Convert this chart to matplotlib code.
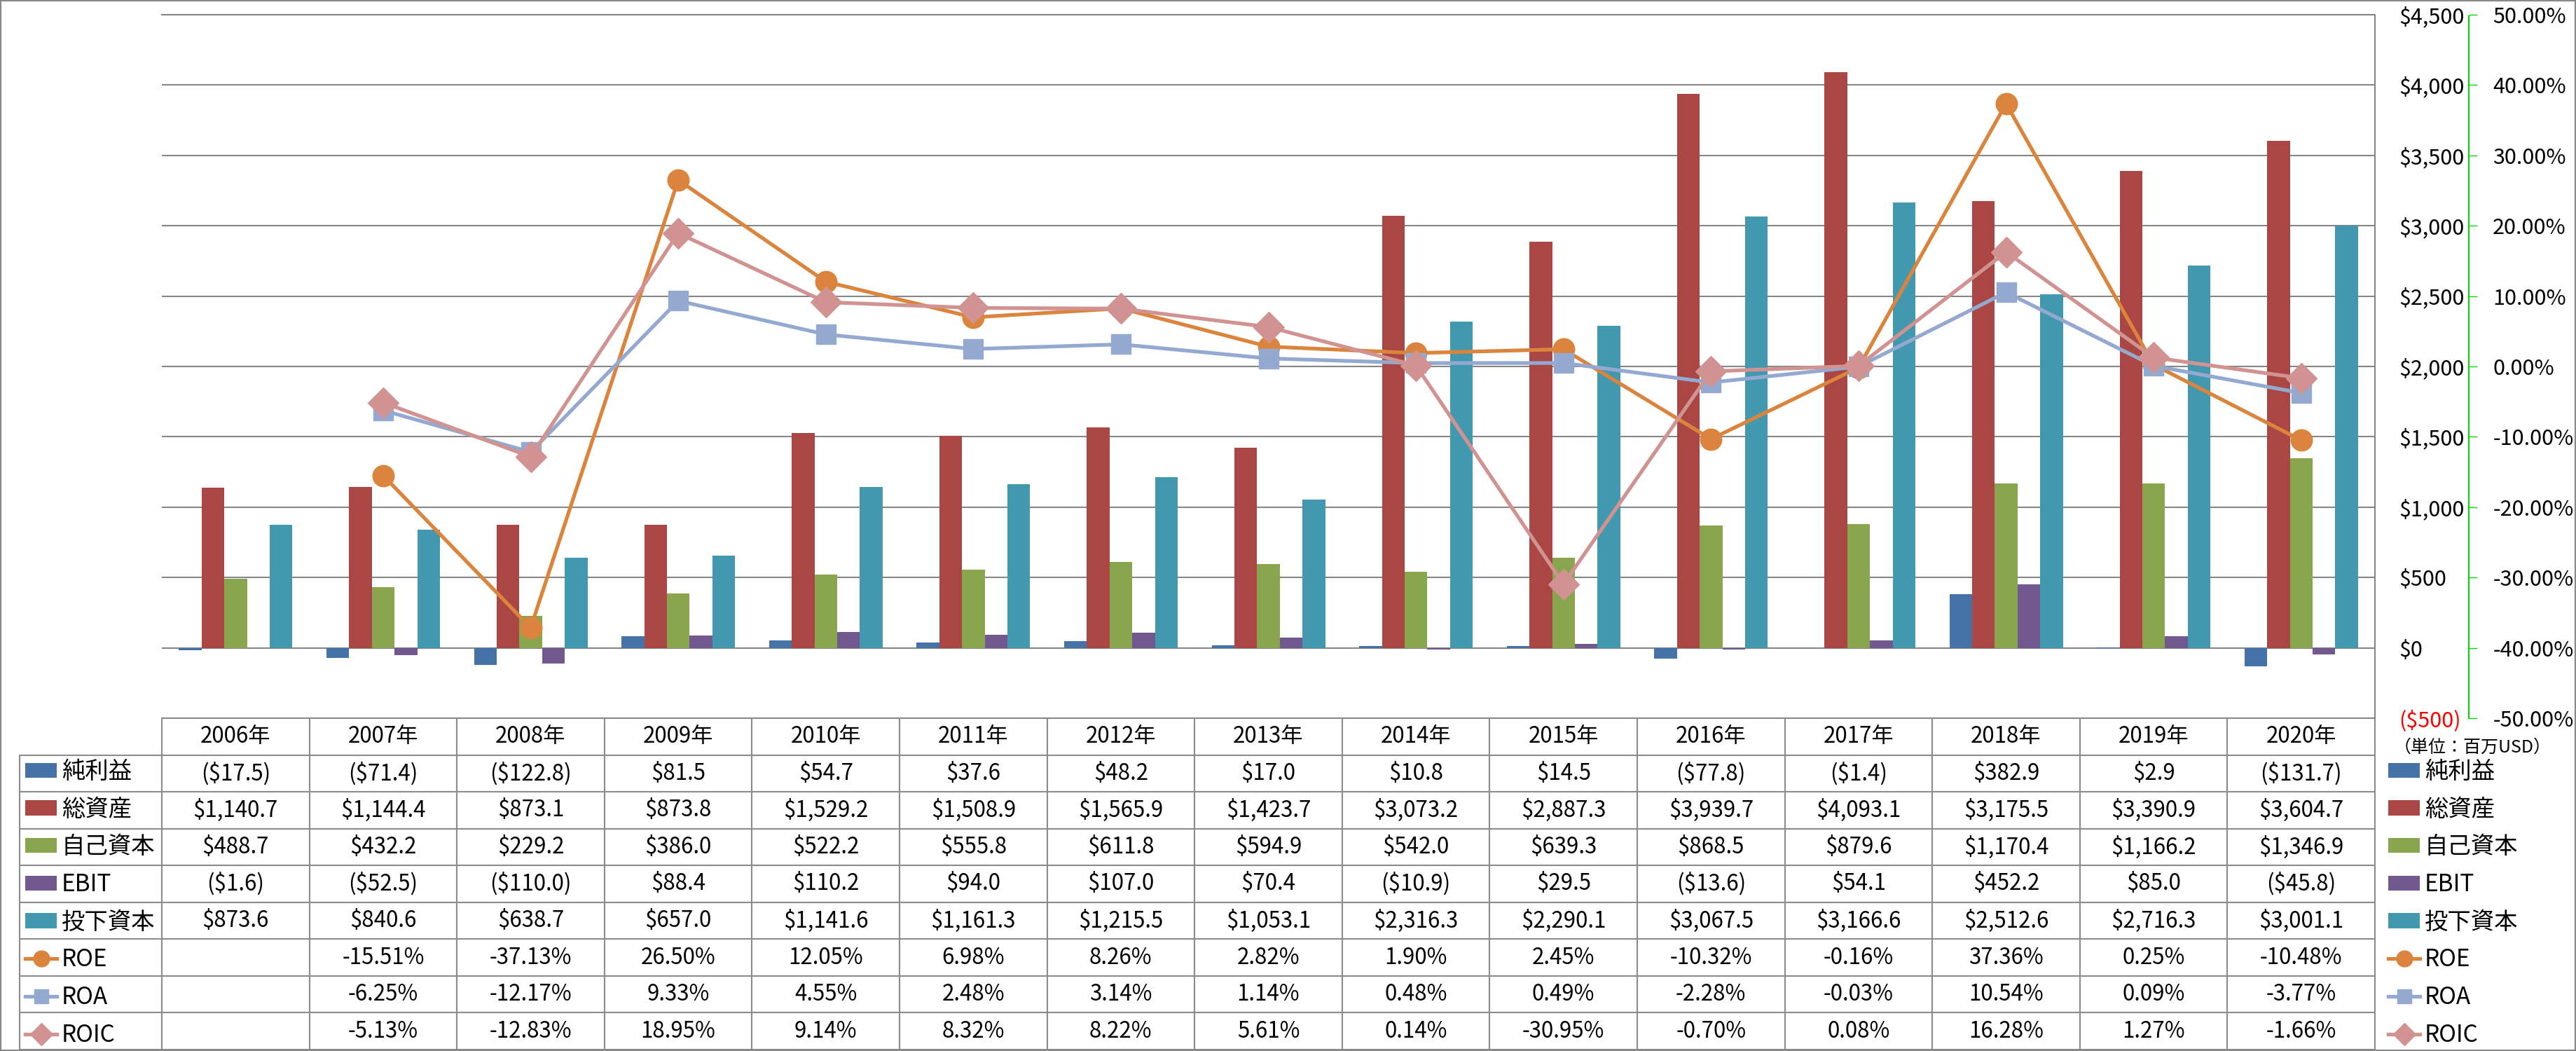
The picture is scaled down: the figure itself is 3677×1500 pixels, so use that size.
import numpy as np
import matplotlib
matplotlib.use("Agg")
from matplotlib import pyplot as plt
from matplotlib.patches import Rectangle

plt.rcParams['font.family'] = ['Noto Sans CJK JP', 'DejaVu Sans']

# Data (百万USD / %)
years = [2006, 2007, 2008, 2009, 2010, 2011, 2012, 2013, 2014, 2015, 2016, 2017, 2018, 2019, 2020]
net_income = [-17.5, -71.4, -122.8, 81.5, 54.7, 37.6, 48.2, 17.0, 10.8, 14.5, -77.8, -1.4, 382.9, 2.9, -131.7]
total_assets = [1140.7, 1144.4, 873.1, 873.8, 1529.2, 1508.9, 1565.9, 1423.7, 3073.2, 2887.3, 3939.7, 4093.1, 3175.5, 3390.9, 3604.7]
equity = [488.7, 432.2, 229.2, 386.0, 522.2, 555.8, 611.8, 594.9, 542.0, 639.3, 868.5, 879.6, 1170.4, 1166.2, 1346.9]
ebit = [-1.6, -52.5, -110.0, 88.4, 110.2, 94.0, 107.0, 70.4, -10.9, 29.5, -13.6, 54.1, 452.2, 85.0, -45.8]
invested = [873.6, 840.6, 638.7, 657.0, 1141.6, 1161.3, 1215.5, 1053.1, 2316.3, 2290.1, 3067.5, 3166.6, 2512.6, 2716.3, 3001.1]
roe = [np.nan, -15.51, -37.13, 26.50, 12.05, 6.98, 8.26, 2.82, 1.90, 2.45, -10.32, -0.16, 37.36, 0.25, -10.48]
roa = [np.nan, -6.25, -12.17, 9.33, 4.55, 2.48, 3.14, 1.14, 0.48, 0.49, -2.28, -0.03, 10.54, 0.09, -3.77]
roic = [np.nan, -5.13, -12.83, 18.95, 9.14, 8.32, 8.22, 5.61, 0.14, -30.95, -0.70, 0.08, 16.28, 1.27, -1.66]

bar_names = ['純利益', '総資産', '自己資本', 'EBIT', '投下資本']
bar_colors = ['#4572A7', '#AA4643', '#89A54E', '#71588F', '#4198AF']
line_names = ['ROE', 'ROA', 'ROIC']
line_colors = ['#DB843D', '#93A9CF', '#D19392']
line_markers = ['o', 's', 'D']
usd_ticks = list(range(-500, 5000, 500))
pct_ticks = list(range(-50, 60, 10))

W, H = 3677, 1500
fig = plt.figure(figsize=(W / 100, H / 100), dpi=100)
ax = fig.add_axes([231 / W, 1 - 1025 / H, (3390 - 231) / W, (1025 - 21) / H])

x = np.arange(len(years))
bw = 1 / 6.5
bars = []
for i, (vals, c) in enumerate(zip([net_income, total_assets, equity, ebit, invested], bar_colors)):
    bars.append(ax.bar(x + (i - 2) * bw, vals, bw, color=c, zorder=2))

ax.set_xlim(-0.5, len(years) - 0.5)
ax.set_ylim(-500, 4500)
ax.set_xticks([])
ax.grid(axis='y', color='#868686', lw=1.5)
ax.set_axisbelow(True)

# secondary axis for ratios
ax2 = ax.twinx()
lines = []
for vals, c, m in zip([roe, roa, roic], line_colors, line_markers):
    ms = 20 if m == 's' else 22
    ln, = ax2.plot(x, np.array(vals) / 100, color=c, lw=3.8, marker=m, ms=ms, mec=c, mfc=c, zorder=3)
    lines.append(ln)
ax2.set_ylim(-0.5, 0.5)
ax2.set_yticks([t / 100 for t in pct_ticks], [f'{t:.2f}%' for t in pct_ticks])
for t, v in zip(ax2.get_yticklabels(), pct_ticks):
    t.set_color('red' if v < 0 else 'black')
ax2.tick_params(axis='y', length=8.6, width=1, color='#00dd00', pad=16, labelsize=22)
for s in ['left', 'top', 'bottom']:
    ax2.spines[s].set_visible(False)
ax2.spines['right'].set_position(('axes', (3524 - 231) / (3390 - 231)))
ax2.spines['right'].set_color('#00dd00')
ax2.spines['right'].set_linestyle((0, (1, 1)))
ax2.spines['right'].set_linewidth(1.5)

# USD labels sit on the right, between plot border and ratio axis
ax.yaxis.tick_right()
ax.set_yticks(usd_ticks, [f'${v:,}' if v >= 0 else f'(${-v:,})' for v in usd_ticks])
for t, v in zip(ax.get_yticklabels(), usd_ticks):
    t.set_color('red' if v < 0 else 'black')
ax.tick_params(axis='y', length=0, pad=25, labelsize=22)
for s in ['left', 'bottom']:
    ax.spines[s].set_visible(False)
for s in ['top', 'right']:
    ax.spines[s].set_color('#868686')
    ax.spines[s].set_linewidth(1.5)

# data table (first column holds the legend keys)
def money(v):
    return f'${v:,.1f}' if v >= 0 else f'(${-v:,.1f})'

def pct(v):
    return '' if np.isnan(v) else f'{v:.2f}%'

cell_text = [[''] + [money(v) for v in s] for s in [net_income, total_assets, equity, ebit, invested]]
cell_text += [[''] + [pct(v) for v in s] for s in [roe, roa, roic]]
aw = 3390 - 231
ah = 1025 - 21
col_w = [203] + [210.6] * 15
tbl = ax.table(cellText=cell_text, colLabels=[''] + [f'{y}年' for y in years],
               cellLoc='center', colWidths=[w / sum(col_w) for w in col_w],
               bbox=[(28 - 231) / aw, -(1498 - 1025) / ah, (3390 - 28) / aw, (1498 - 1025) / ah])
tbl.auto_set_font_size(False)
tbl.set_fontsize(22.5)
for (r, c), cell in tbl.get_celld().items():
    cell.set_edgecolor('#8c8c8c')
    cell.set_linewidth(1.5)
tbl[0, 0].visible_edges = 'B'

# legend keys: in table row labels and on the right
handles = bars + lines
labels = bar_names + line_names
leg_kw = dict(loc='upper left', frameon=False, fontsize=24, handlelength=1.35, handleheight=0.6,
              handletextpad=0.2, labelspacing=0.56, borderpad=0, borderaxespad=0, markerscale=0.75)
leg1 = ax.legend(handles, labels, bbox_to_anchor=((3409 - 231) / aw, -(1084 - 1025) / ah), **leg_kw)
ax.add_artist(leg1)
ax.legend(handles, labels, bbox_to_anchor=((36 - 231) / aw, -(1084 - 1025) / ah), **leg_kw)

ax.text((3417 - 231) / aw, -(1067 - 1025) / ah, '（単位：百万USD）', transform=ax.transAxes,
        fontsize=18, va='center', ha='left')

fig.patches.append(Rectangle((0, 0), 1, 1, transform=fig.transFigure, fill=False,
                             edgecolor='#888888', lw=3))

fig.savefig('out.png', dpi=100)
